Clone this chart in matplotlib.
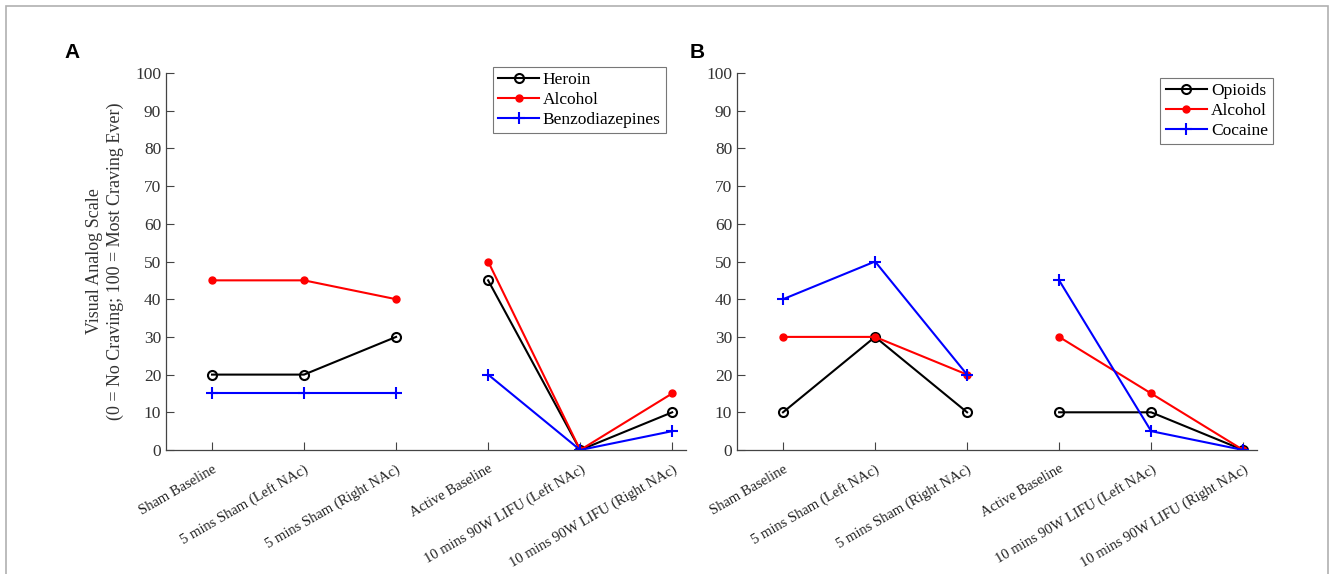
import numpy as np
import matplotlib.pyplot as plt
from matplotlib.lines import Line2D
from matplotlib.patches import Rectangle

stages = ["Sham Baseline", "5 mins Sham (Left NAc)", "5 mins Sham (Right NAc)",
          "Active Baseline", "10 mins 90W LIFU (Left NAc)", "10 mins 90W LIFU (Right NAc)"]

# panel A
heroin = [20, 20, 30, 45, 0, 10]
alcohol_a = [45, 45, 40, 50, 0, 15]
benzo = [15, 15, 15, 20, 0, 5]

# panel B
opioids = [10, 30, 10, 10, 10, 0]
alcohol_b = [30, 30, 20, 30, 15, 0]
cocaine = [40, 50, 20, 45, 5, 0]

serif = "Liberation Serif"
axcol = "#444444"

fig = plt.figure(figsize=(13.3, 5.74), dpi=100)
fig.patches.append(Rectangle((6 / 1330, -0.1), 1322 / 1330, 1.1 - 6 / 574,
                             transform=fig.transFigure, fill=False,
                             edgecolor="#b0b0b0", lw=1.2))

styles = [dict(color="black", marker="o", mfc="none", ms=6.5, mew=1.5),
          dict(color="red", marker="o", mfc="red", ms=5, mew=1),
          dict(color="blue", marker="+", ms=8, mew=1.5)]


def panel(left, series, names, leg_anchor, letter, letter_x):
    ax = fig.add_axes([left / 1330, 124 / 574, 520 / 1330, 377 / 574])
    x = np.arange(1, len(stages) + 1)
    for vals, st in zip(series, styles):
        v = np.array(vals, dtype=float)
        ax.plot(x[:3], v[:3], lw=1.5, **st)
        ax.plot(x[3:], v[3:], lw=1.5, **st)
    ax.set_xlim(0.5, 6.15)
    ax.set_ylim(0, 100)
    ax.set_yticks(range(0, 101, 10))
    ax.set_xticks(x)
    ax.set_xticklabels(stages, rotation=30, ha="right", rotation_mode="anchor",
                       fontfamily=serif, fontsize=10.5, color="#222222")
    for lab in ax.get_yticklabels():
        lab.set_fontfamily(serif)
        lab.set_fontsize(12.5)
        lab.set_color("#333333")
    ax.tick_params(direction="in", length=6, color=axcol, width=0.8)
    ax.tick_params(axis="x", pad=9)
    for s in ["top", "right"]:
        ax.spines[s].set_visible(False)
    for s in ["left", "bottom"]:
        ax.spines[s].set_color(axcol)
        ax.spines[s].set_linewidth(0.9)
    handles = [Line2D([], [], lw=1.5, **st) for st in styles]
    leg = ax.legend(handles, names, loc="upper right", bbox_to_anchor=leg_anchor,
                    bbox_transform=fig.transFigure, prop=dict(family=serif, size=12.5),
                    frameon=True, fancybox=False, handlelength=2.4,
                    borderpad=0.3, labelspacing=0.2, handletextpad=0.2,
                    borderaxespad=0)
    leg.get_frame().set_edgecolor("#555555")
    leg.get_frame().set_linewidth(0.8)
    fig.text(letter_x / 1330, 1 - 53 / 574, letter, fontsize=15, fontweight="bold",
             family="Liberation Sans", ha="center", va="center")
    return ax


axA = panel(166, [heroin, alcohol_a, benzo], ["Heroin", "Alcohol", "Benzodiazepines"],
            (666 / 1330, 1 - 67 / 574), "A", 72)
axA.set_ylabel("Visual Analog Scale\n(0 = No Craving; 100 = Most Craving Ever)",
               fontfamily=serif, fontsize=13, color="#333333", labelpad=8,
               linespacing=1.25)

axB = panel(737, [opioids, alcohol_b, cocaine], ["Opioids", "Alcohol", "Cocaine"],
            (1273 / 1330, 1 - 78 / 574), "B", 697)

fig.savefig("out.png", dpi=100)
